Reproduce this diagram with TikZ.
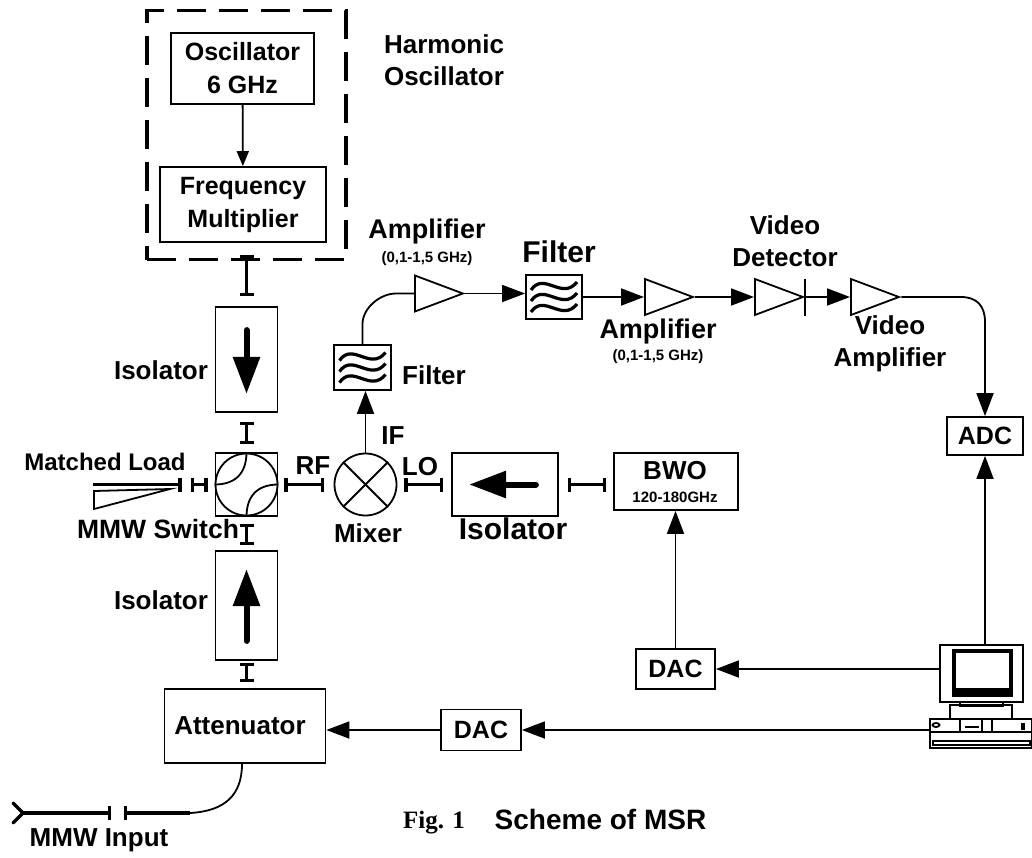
\documentclass[tikz,border=0pt]{standalone}
\usepackage{fontspec}
\setmainfont{Liberation Sans}
\newfontfamily\figfont{Liberation Serif}
\usetikzlibrary{arrows.meta,calc,shapes.geometric}
\tikzset{
  lbl/.style={inner sep=0pt, align=center, font=\bfseries\fontsize{26}{32}\selectfont},
  biglbl/.style={lbl, font=\bfseries\fontsize{30}{34}\selectfont},
  smalllbl/.style={lbl, font=\bfseries\fontsize{15}{18}\selectfont},
  block/.style={draw, line width=1.8pt, inner sep=0pt, align=center, font=\bfseries\fontsize{25}{33}\selectfont},
  amp/.style={draw, line width=1.8pt, isosceles triangle, isosceles triangle stretches=true,
    minimum width=36pt, minimum height=48pt, inner sep=0pt, anchor=west},
  wire/.style={line width=1.8pt},
  sig/.style={wire, -{Triangle[length=23pt,width=17pt]}},
  flange/.style={line width=3.4pt, {Bar[width=14pt,line width=3.4pt]}-{Bar[width=14pt,line width=3.4pt]}},
  bigarrow/.style={line width=6pt, line cap=round, -{Triangle[length=37pt,width=26pt]}},
  wavefilter/.pic={
    \foreach \dy in {-11,0,11}
      \draw[line width=3.2pt] (-23,4+\dy) .. controls (-10,-15+\dy) and (8,15+\dy) .. (23,-4+\dy);
  }
}
\begin{document}
\begin{tikzpicture}[x=1pt,y=-1pt]
 \useasboundingbox (0,0) rectangle (1032,857);

 % harmonic oscillator
 \node[block, line width=3.4pt, dash pattern=on 29pt off 13pt, minimum width=199pt, minimum height=249pt] (hosc) at (246.5,135) {};
 \node[block, minimum width=143pt, minimum height=71pt] (osc) at (242.5,68.5) {Oscillator\\6 GHz};
 \node[block, minimum width=166pt, minimum height=75pt] (mult) at (243,204.5) {Frequency\\Multiplier};
 \node[lbl] (hlbl) at (444,60) {Harmonic\\Oscillator};
 \draw[wire, -{Triangle[length=15pt,width=12pt]}] (osc) -- (mult);

 % waveguide column
 \node[block, minimum width=62pt, minimum height=105pt] (iso1) at (246.5,359.5) {};
 \node[block, minimum width=62pt, minimum height=63pt] (sw) at (246.5,484.5) {};
 \node[block, minimum width=62pt, minimum height=109pt] (iso2) at (246.5,605.5) {};
 \node[block, minimum width=161pt, minimum height=74pt] (att) at (245,726) {};
 \node[lbl] (attl) at (240,726) {Attenuator};
 \node[lbl] (l1) at (161,370) {Isolator};
 \node[lbl] (l2) at (161,600) {Isolator};
 \draw[bigarrow] ($(iso1.north)+(0,24)$) -- ($(iso1.south)+(0,-19)$);
 \draw[bigarrow] ($(iso2.south)+(0,-20)$) -- ($(iso2.north)+(0,19)$);
 \draw[flange] ($(hosc.south)+(0,-6)$) -- ($(iso1.north)+(0,-10)$);
 \draw[flange] ($(iso1.south)+(0,9)$) -- ($(sw.north)+(0,-8)$);
 \draw[flange] ($(sw.south)+(0,7)$) -- ($(iso2.north)+(0,-5)$);
 \draw[flange] ($(iso2.south)+(0,2)$) -- ($(iso2.south |- att.north)+(0,-6)$);

 % switch
 \node[draw, circle, wire, minimum size=62pt, inner sep=0pt] (swc) at (sw) {};
 \draw[wire] (sw.north) .. controls +(0,22) and +(20,0) .. (sw.west);
 \draw[wire] (sw.east) .. controls +(-22,0) and +(0,-20) .. (sw.south);
 \node[lbl, font=\bfseries\fontsize{24}{30}\selectfont] (ml) at (105,462) {Matched Load};
 \node[lbl, font=\bfseries\fontsize{26.5}{30}\selectfont] (ms) at (158,529) {MMW Switch};
 \coordinate (loadend) at (93,484.5);
 \draw[line width=3.4pt, -{Bar[width=14pt,line width=3.4pt]}] (loadend) -- ($(sw.west)+(-33,0)$);
 \draw[flange] ($(sw.west)+(-24,0)$) -- ($(sw.west)+(-7,0)$);
 \coordinate (load) at (94,491);
 \draw[wire] (load) -- (170,489) -- (94,509) -- cycle;

 % mixer
 \node[draw, circle, wire, minimum size=62pt, inner sep=0pt] (mix) at (365.5,484.5) {};
 \draw[wire] (mix.north west) -- (mix.south east);
 \draw[wire] (mix.north east) -- (mix.south west);
 \node[lbl] (mx) at (368,533) {Mixer};
 \node[lbl] (rf) at (313,466) {RF};
 \node[lbl] (lo) at (420,467) {LO};
 \node[lbl] (ifl) at (393,436) {IF};
 \draw[flange] ($(sw.east)+(6,0)$) -- ($(mix.west)+(-9.5,0)$);
 \draw[flange] ($(mix.east)+(7,0)$) -- ($(mix.east)+(46,0)$);

 % local oscillator branch
 \node[block, minimum width=106pt, minimum height=63pt] (iso3) at (505,484.5) {};
 \node[biglbl] (l3) at (513,529) {Isolator};
 \draw[bigarrow] ($(iso3.east)+(-23,0)$) -- ($(iso3.west)+(18,0)$);
 \node[block, minimum width=124pt, minimum height=57pt] (bwo) at (676,481.5) {};
 \node[lbl] (bwot) at (675,471) {BWO};
 \node[smalllbl] (bwof) at (675,497) {120-180GHz};
 \draw[flange] ($(iso3.east)+(9,0)$) -- ($(bwo.west |- iso3)+(-7,0)$);
 \node[block, minimum width=79pt, minimum height=40pt] (dac1) at (675.5,669) {DAC};
 \node[block, minimum width=80pt, minimum height=41pt] (dac2) at (481,730) {DAC};
 \draw[sig] (dac1.north) -- (dac1.north |- bwo.south);

 % IF chain
 \node[block, minimum width=57pt, minimum height=45pt] (flt1) at (362.5,367.5) {};
 \pic at (flt1.center) {wavefilter};
 \node[lbl] (fl1) at (434,375) {Filter};
 \node[block, minimum width=56pt, minimum height=44pt] (flt2) at (554,297) {};
 \pic at (flt2.center) {wavefilter};
 \node[biglbl] (fl2) at (559,252) {Filter};
 \node[amp] (a1) at (414,293.5) {};
 \node[amp] (a2) at (644,297) {};
 \node[amp] (det) at (754,297) {};
 \node[amp] (a3) at (850,297) {};
 \node[lbl, font=\bfseries\fontsize{27}{32}\selectfont] (al1) at (427,232) {Amplifier};
 \node[smalllbl] (af1) at (427,259) {(0,1-1,5 GHz)};
 \node[lbl, font=\bfseries\fontsize{27}{32}\selectfont] (al2) at (658,332) {Amplifier};
 \node[smalllbl] (af2) at (658,357) {(0,1-1,5 GHz)};
 \node[lbl] (dl) at (785,241) {Video\\Detector};
 \node[lbl] (vl) at (890,344) {Video\\Amplifier};
 \draw[sig] (mix.north) -- (mix.north |- flt1.south);
 \draw[wire] (flt1.north) -- ++(0,-20) .. controls +(0,-16) and +(-16,0) .. (396,293.5) -- (a1.west);
 \draw[sig] (a1.east) -- (a1.east -| flt2.west);
 \draw[sig] (flt2.east) -- (a2.west);
 \draw[sig] (a2.east) -- (det.west);
 \draw[wire] ($(det.east)+(0,-18)$) -- ($(det.east)+(0,19)$);
 \draw[sig] (det.east) -- (a3.west);

 % ADC and computer
 \node[block, minimum width=76pt, minimum height=38pt] (adc) at (985,436) {ADC};
 \draw[sig] (a3.east) -- (961,297) .. controls +(16,0) and +(0,-16) .. (adc.north |- 0,322) -- (adc.north);
 \node[block, minimum width=83pt, minimum height=57pt] (mon) at (981.5,673.5) {};
 \node[fill, inner sep=0pt, minimum width=61pt, minimum height=48pt] (scr) at (982.5,673) {};
 \node[fill=white, inner sep=0pt, minimum width=53pt, minimum height=35pt] (scri) at (982.5,670.5) {};
 \node[block, minimum width=43pt, minimum height=4pt] (neck) at (981.5,704) {};
 \node[block, minimum width=62pt, minimum height=14pt] (std) at (981,712) {};
 \node[block, minimum width=102pt, minimum height=29pt] (pc) at (981,733.5) {};
 \draw[wire] (pc.west |- 0,732) -- (pc.east |- 0,732);
 \draw[wire] (960,719) -- (960,732) (982,719) -- (982,732) (992,719) -- (992,732);
 \draw[wire] (933,741) rectangle (1030,745);
 \draw[wire] (965,727) -- (979,727);
 \draw[wire] (936,725) ellipse (3.5pt and 2pt);
 \draw[line width=2.4pt] (1022,724) rectangle (1024,729);
 \draw[sig] (mon.north -| adc.south) -- (adc.south);
 \draw[sig] (mon.west |- dac1) -- (dac1.east);
 \draw[sig] (pc.west |- dac2) -- (dac2.east);
 \draw[sig] (dac2.west) -- (att.east |- dac2);

 % input
 \node[lbl] (inl) at (99,840) {MMW Input};
 \coordinate (fork) at (23,813);
 \coordinate (gap) at (124,813);
 \coordinate (bend) at (190,813);
 \draw[line width=3.4pt, line cap=round] (13,803) -- (fork) -- (13,823);
 \draw[line width=3.4pt, -{Bar[width=14pt,line width=3.4pt]}] (fork) -- (111,813);
 \draw[line width=3.4pt, {Bar[width=14pt,line width=3.4pt]}-] (gap) -- (bend);
 \draw[wire] (bend) .. controls (225,811) and (242,795) .. ($(att.south)+(-3,0)$);

 \node[lbl, font=\figfont\bfseries\fontsize{25}{30}\selectfont] (fig) at (434,823) {Fig. 1};
 \node[lbl, font=\bfseries\fontsize{28}{32}\selectfont] (cap) at (600.5,819) {Scheme of MSR};
\end{tikzpicture}
\end{document}
